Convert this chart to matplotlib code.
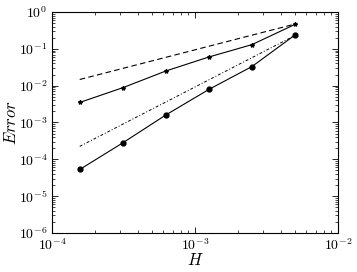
import matplotlib
matplotlib.use("Agg")
import matplotlib.pyplot as plt
from matplotlib.ticker import FuncFormatter, LogLocator, NullFormatter
import numpy as np

# mesh sizes
H = [1.5625e-4, 3.125e-4, 6.25e-4, 1.25e-3, 2.5e-3, 5e-3]
# errors of the two schemes
err_first = [3.5e-3, 8.8e-3, 2.5e-2, 6.0e-2, 0.13, 0.46]
err_second = [5.3e-5, 2.8e-4, 1.6e-3, 7.9e-3, 3.3e-2, 0.237]
# reference slopes (order 1 and order 2)
ref_H = [1.5625e-4, 5e-3]
ref_first = [0.0147, 0.47]
ref_second = [2.25e-4, 0.23]

plt.rcParams['mathtext.fontset'] = 'cm'
plt.rcParams['font.family'] = 'serif'

fig = plt.figure(figsize=(3.57, 2.72), dpi=100)
ax = fig.add_axes([0.1457, 0.1434, 0.8011, 0.8125])

ax.loglog(ref_H, ref_first, 'k--', lw=0.8, dashes=(5, 3))
ax.loglog(ref_H, ref_second, 'k-.', lw=0.7, dashes=(3, 2, 1, 2))
ax.loglog(H, err_first, 'k-', marker='*', ms=3, lw=0.8)
ax.loglog(H, err_second, 'k-', marker='o', ms=3.5, lw=0.8)

ax.set_xlim(1e-4, 1e-2)
ax.set_ylim(1e-6, 1e0)
for axis in (ax.xaxis, ax.yaxis):
    axis.set_major_locator(LogLocator(base=10, numticks=10))
    axis.set_minor_locator(LogLocator(base=10, subs=range(2, 10), numticks=20))
    axis.set_minor_formatter(NullFormatter())
fmt = FuncFormatter(lambda v, p: r'$10^{%d}$' % int(round(np.log10(v))))
ax.xaxis.set_major_formatter(fmt)
ax.yaxis.set_major_formatter(fmt)
ax.tick_params(which='both', direction='in', top=True, right=True, labelsize=10)
ax.tick_params(which='major', length=4, width=0.6)
ax.tick_params(which='minor', length=2, width=0.5)
for s in ax.spines.values():
    s.set_linewidth(0.8)

ax.set_xlabel(r'$H$', fontsize=12, va='center')
ax.set_ylabel(r'$Error$', fontsize=12, va='center')
ax.xaxis.set_label_coords(0.5, -0.125)
ax.yaxis.set_label_coords(-0.14, 0.5)

fig.savefig('out.png', dpi=100)
